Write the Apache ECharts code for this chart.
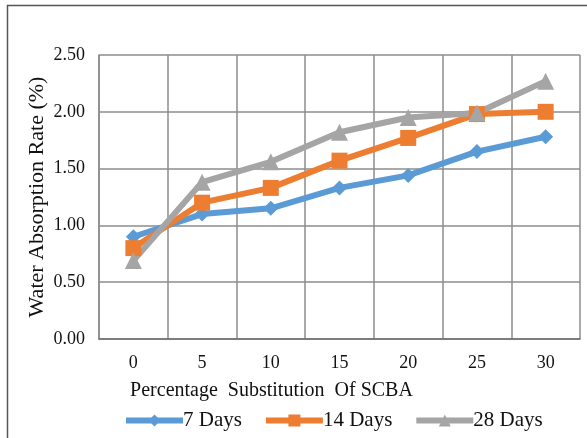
<!DOCTYPE html>
<html><head><meta charset="utf-8">
<script src="https://cdn.jsdelivr.net/npm/echarts@6/dist/echarts.min.js"></script>
<style>html,body{margin:0;padding:0;background:#fff}#c{width:587px;height:438px}</style>
</head><body><div id="c"></div>
<script>
const categories = ['0', '5', '10', '15', '20', '25', '30'];
const days7 = [0.90, 1.10, 1.15, 1.33, 1.44, 1.65, 1.78];
const days14 = [0.80, 1.20, 1.33, 1.57, 1.77, 1.98, 2.00];
const days28 = [0.69, 1.38, 1.56, 1.82, 1.95, 1.99, 2.27];
const seriesNames = ['7 Days', '14 Days', '28 Days'];

const font = 'Liberation Serif';
const gridColor = '#8c8c8c';
const chart = echarts.init(document.getElementById('c'));
function mk(name, data, color, symbol, size) {
  return {
    name, type: 'line', data, symbol, symbolSize: size,
    lineStyle: { color, width: 6 }, itemStyle: { color },
    emphasis: { disabled: true }
  };
}
chart.setOption({
  animation: false,
  textStyle: { fontFamily: font },
  graphic: [{ type: 'rect', shape: { x: 7.5, y: 5.5, width: 620, height: 500 },
    style: { fill: 'none', stroke: '#555', lineWidth: 1.5 }, silent: true }],
  grid: { left: 99, right: 7, top: 55, bottom: 99 },
  xAxis: {
    type: 'category', data: categories, boundaryGap: true,
    axisLine: { lineStyle: { color: '#6e6e6e', width: 1.5 } },
    axisTick: { show: false },
    axisLabel: { fontFamily: font, fontSize: 18, color: '#111', margin: 15 },
    splitLine: { show: true, lineStyle: { color: gridColor, width: 1.5 } },
    name: 'Percentage  Substitution  Of SCBA', nameLocation: 'middle', nameGap: 42,
    nameMoveOverlap: false,
    nameTextStyle: { fontFamily: font, fontSize: 20, color: '#111', padding: [0, 136, 0, 0] }
  },
  yAxis: {
    type: 'value', min: 0, max: 2.5, interval: 0.5,
    axisLine: { show: true, lineStyle: { color: gridColor, width: 1.5 } },
    axisTick: { show: false },
    axisLabel: { fontFamily: font, fontSize: 18, color: '#111', margin: 14,
      formatter: v => v.toFixed(2) },
    splitLine: { show: true, lineStyle: { color: gridColor, width: 1.5 } },
    name: 'Water Absorption Rate (%)', nameLocation: 'middle', nameGap: 51,
    nameMoveOverlap: false,
    nameTextStyle: { fontFamily: font, fontSize: 22, color: '#111' }
  },
  legend: {
    bottom: 2, left: 118, itemWidth: 57, itemHeight: 15, itemGap: 21,
    lineStyle: { width: 6 },
    textStyle: { fontFamily: font, fontSize: 21, color: '#111', padding: [0, 0, 0, -5] },
    data: seriesNames
  },
  series: [
    mk(seriesNames[0], days7, '#5b9bd5', 'diamond', 15),
    mk(seriesNames[1], days14, '#ed7d31', 'rect', 16),
    mk(seriesNames[2], days28, '#a5a5a5', 'triangle', 17)
  ]
});
</script></body></html>
